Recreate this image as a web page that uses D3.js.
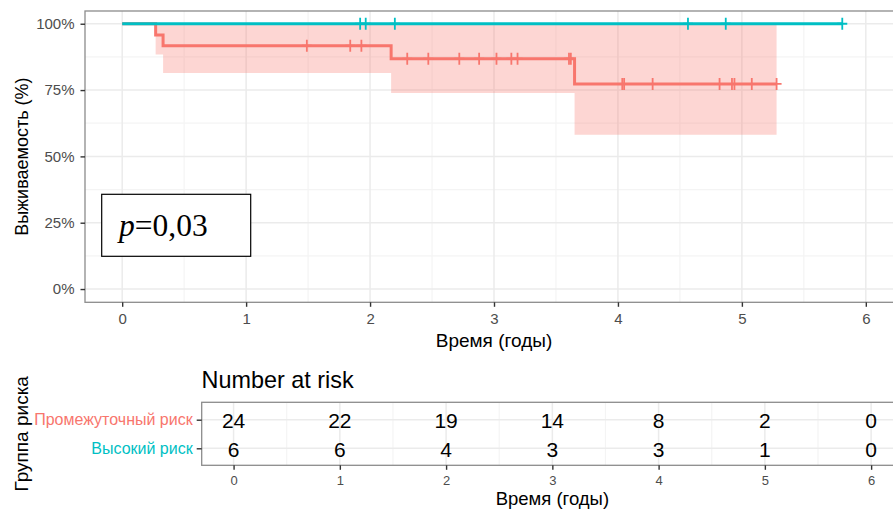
<!DOCTYPE html>
<html>
<head>
<meta charset="utf-8">
<script src="https://cdn.jsdelivr.net/npm/d3@7"></script>
<style>
  html, body { margin: 0; padding: 0; background: #fff; }
  svg { display: block; font-family: "Liberation Sans", Arial, sans-serif; }
</style>
</head>
<body>
<svg id="chart" width="893" height="516"></svg>
<script>
// Kaplan–Meier curves by risk group
const groups = ["Промежуточный риск", "Высокий риск"];
const colors = ["#F8766D", "#00BFC4"];

// intermediate-risk group: step times, survival, lower CI bound
const midTimes = [0, 0.27, 0.33, 2.17, 3.65];
const midSurv = [1, 0.958, 0.917, 0.868, 0.773];
const midLower = [1, 0.884, 0.814, 0.739, 0.582];
const midUpper = [1, 1, 1, 1, 1];
const midEnd = 5.28;
const midCensor = [1.49, 1.84, 1.93, 2.30, 2.47, 2.72, 2.88, 3.02, 3.14, 3.19,
  3.605, 3.62, 4.035, 4.05, 4.28, 4.82, 4.92, 4.94, 5.08, 5.28];

// high-risk group: no events
const highTimes = [0];
const highSurv = [1];
const highEnd = 5.81;
const highCensor = [1.92, 1.965, 2.20, 4.565, 4.87, 5.81];

// number at risk table
const riskTimes = [0, 1, 2, 3, 4, 5, 6];
const midAtRisk = [24, 22, 19, 14, 8, 2, 0];
const highAtRisk = [6, 6, 4, 3, 3, 1, 0];

const yTicks = [0, 0.25, 0.5, 0.75, 1];
const xTicks = [0, 1, 2, 3, 4, 5, 6];
const pLabel = "0,03";

const svg = d3.select("#chart");
const grid = "#EBEBEB", gridMinor = "#F4F4F4", border = "#8C8C8C", tickCol = "#333", labCol = "#4D4D4D";
const sans = "Liberation Sans, Arial, sans-serif";

// ---------- survival panel ----------
const P = { left: 85, top: 11, right: 903, bottom: 302.3 };
const x = d3.scaleLinear().domain([-0.3, 6.3]).range([P.left, P.right]);
const y = d3.scaleLinear().domain([-0.05, 1.048]).range([P.bottom, P.top]);

const survG = svg.append("g");
survG.append("defs").append("clipPath").attr("id", "clipTop")
  .append("rect").attr("x", P.left).attr("y", P.top).attr("width", P.right - P.left).attr("height", P.bottom - P.top);

const gg = survG.append("g").attr("clip-path", "url(#clipTop)");
// minor grid
[0.125, 0.375, 0.625, 0.875].forEach(v => gg.append("line")
  .attr("x1", P.left).attr("x2", P.right).attr("y1", y(v)).attr("y2", y(v))
  .attr("stroke", gridMinor).attr("stroke-width", 1.2));
[0.5, 1.5, 2.5, 3.5, 4.5, 5.5].forEach(v => gg.append("line")
  .attr("x1", x(v)).attr("x2", x(v)).attr("y1", P.top).attr("y2", P.bottom)
  .attr("stroke", gridMinor).attr("stroke-width", 1.2));
// major grid
yTicks.forEach(v => gg.append("line")
  .attr("x1", P.left).attr("x2", P.right).attr("y1", y(v)).attr("y2", y(v))
  .attr("stroke", grid).attr("stroke-width", 1.5));
xTicks.forEach(v => gg.append("line")
  .attr("x1", x(v)).attr("x2", x(v)).attr("y1", P.top).attr("y2", P.bottom)
  .attr("stroke", grid).attr("stroke-width", 1.5));

// confidence band for intermediate group
const bandPts = midTimes.map((t, i) => ({ t, lo: midLower[i], hi: midUpper[i] }));
bandPts.push({ t: midEnd, lo: midLower[midLower.length - 1], hi: midUpper[midUpper.length - 1] });
gg.append("path")
  .datum(bandPts)
  .attr("d", d3.area().curve(d3.curveStepAfter).x(d => x(d.t)).y0(d => y(d.lo)).y1(d => y(d.hi)))
  .attr("fill", colors[0]).attr("fill-opacity", 0.3);

function stepPts(times, surv, end) {
  const pts = times.map((t, i) => ({ t, s: surv[i] }));
  pts.push({ t: end, s: surv[surv.length - 1] });
  return pts;
}
function survAt(times, surv, t) {
  let s = surv[0];
  times.forEach((tt, i) => { if (tt <= t) s = surv[i]; });
  return s;
}
const line = d3.line().curve(d3.curveStepAfter).x(d => x(d.t)).y(d => y(d.s));

const series = [
  { times: midTimes, surv: midSurv, end: midEnd, cens: midCensor, color: colors[0] },
  { times: highTimes, surv: highSurv, end: highEnd, cens: highCensor, color: colors[1] }
];
series.forEach(s => {
  gg.append("path").datum(stepPts(s.times, s.surv, s.end))
    .attr("d", line).attr("fill", "none").attr("stroke", s.color).attr("stroke-width", 3);
  s.cens.forEach(t => {
    const cx = x(t), cy = y(survAt(s.times, s.surv, t));
    gg.append("line").attr("x1", cx - 5).attr("x2", cx + 5).attr("y1", cy).attr("y2", cy)
      .attr("stroke", s.color).attr("stroke-width", 1.8);
    gg.append("line").attr("x1", cx).attr("x2", cx).attr("y1", cy - 6).attr("y2", cy + 6)
      .attr("stroke", s.color).attr("stroke-width", 1.8);
  });
});

// panel border
survG.append("rect").attr("x", P.left).attr("y", P.top).attr("width", P.right - P.left).attr("height", P.bottom - P.top)
  .attr("fill", "none").attr("stroke", border).attr("stroke-width", 1.3);

// axes
const yAxis = survG.append("g").attr("transform", `translate(${P.left},0)`)
  .call(d3.axisLeft(y).tickValues(yTicks).tickFormat(d => Math.round(d * 100) + "%").tickSize(4.5).tickPadding(6));
const xAxis = survG.append("g").attr("transform", `translate(0,${P.bottom})`)
  .call(d3.axisBottom(x).tickValues(xTicks).tickFormat(d3.format("d")).tickSize(4.5).tickPadding(6.5));
[yAxis, xAxis].forEach(a => {
  a.select(".domain").remove();
  a.selectAll(".tick line").attr("stroke", tickCol).attr("stroke-width", 1.4);
  a.selectAll(".tick text").attr("fill", labCol).attr("font-size", 15).attr("font-family", sans);
});

survG.append("text").attr("x", (P.left + P.right) / 2).attr("y", 346.7)
  .attr("text-anchor", "middle").attr("font-size", 19).attr("fill", "#000").text("Время (годы)");
survG.append("text").attr("transform", `translate(27.5,${(P.top + P.bottom) / 2}) rotate(-90)`)
  .attr("text-anchor", "middle").attr("font-size", 18).attr("fill", "#000").text("Выживаемость (%)");

// p-value box
survG.append("rect").attr("x", 101.7).attr("y", 194.3).attr("width", 149).attr("height", 62)
  .attr("fill", "#fff").attr("stroke", "#000").attr("stroke-width", 1.2);
const pt = survG.append("text").attr("x", 119).attr("y", 235.7)
  .attr("font-family", "Liberation Serif, Times New Roman, serif").attr("font-size", 31.5).attr("fill", "#000");
pt.append("tspan").attr("font-style", "italic").text("p");
pt.append("tspan").text("=" + pLabel);

// ---------- number at risk table ----------
const T = { left: 201.7, top: 402.3, right: 903, bottom: 465.3 };
const xt = d3.scaleLinear().domain([-0.3, 6.3]).range([T.left, T.right]);
const yt = d3.scalePoint().domain(groups).range([419.7, 448.3]);

const tb = svg.append("g");
[0.5, 1.5, 2.5, 3.5, 4.5, 5.5].forEach(v => tb.append("line")
  .attr("x1", xt(v)).attr("x2", xt(v)).attr("y1", T.top).attr("y2", T.bottom)
  .attr("stroke", gridMinor).attr("stroke-width", 1.2));
riskTimes.forEach(v => tb.append("line")
  .attr("x1", xt(v)).attr("x2", xt(v)).attr("y1", T.top).attr("y2", T.bottom)
  .attr("stroke", grid).attr("stroke-width", 1.5));
groups.forEach(g => tb.append("line")
  .attr("x1", T.left).attr("x2", T.right).attr("y1", yt(g)).attr("y2", yt(g))
  .attr("stroke", grid).attr("stroke-width", 1.5));

const riskRows = [midAtRisk, highAtRisk];
groups.forEach((g, gi) => {
  riskRows[gi].forEach((n, i) => {
    tb.append("text").attr("x", xt(riskTimes[i])).attr("y", yt(g)).attr("dy", "0.4em")
      .attr("text-anchor", "middle").attr("font-size", 21).attr("fill", "#000").text(n);
  });
});

tb.append("rect").attr("x", T.left).attr("y", T.top).attr("width", T.right - T.left).attr("height", T.bottom - T.top)
  .attr("fill", "none").attr("stroke", border).attr("stroke-width", 1.3);

const ytAxis = tb.append("g").attr("transform", `translate(${T.left},0)`)
  .call(d3.axisLeft(yt).tickSize(5).tickPadding(4));
const xtAxis = tb.append("g").attr("transform", `translate(0,${T.bottom})`)
  .call(d3.axisBottom(xt).tickValues(riskTimes).tickFormat(d3.format("d")).tickSize(4.5).tickPadding(5.5));
[ytAxis, xtAxis].forEach(a => {
  a.select(".domain").remove();
  a.selectAll(".tick line").attr("stroke", tickCol).attr("stroke-width", 1.4);
  a.selectAll(".tick text").attr("font-family", sans);
});
ytAxis.selectAll(".tick text").attr("font-size", 16).attr("fill", (d, i) => colors[i]);
xtAxis.selectAll(".tick text").attr("font-size", 13).attr("fill", labCol);

tb.append("text").attr("x", 201.5).attr("y", 387.7).attr("font-size", 23.4).attr("fill", "#000").text("Number at risk");
tb.append("text").attr("x", (T.left + T.right) / 2).attr("y", 504.5)
  .attr("text-anchor", "middle").attr("font-size", 18.5).attr("fill", "#000").text("Время (годы)");
tb.append("text").attr("transform", `translate(28,${(T.top + T.bottom) / 2}) rotate(-90)`)
  .attr("text-anchor", "middle").attr("font-size", 19).attr("fill", "#000").text("Группа риска");
</script>
</body>
</html>
